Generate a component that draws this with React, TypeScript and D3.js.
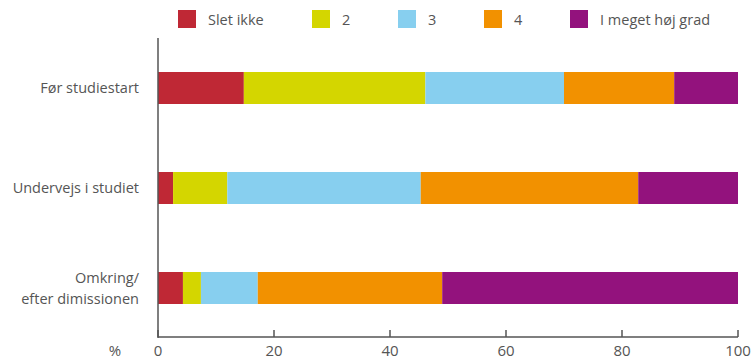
import React from "react";
import * as d3 from "d3";

const categories = ["Før studiestart", "Undervejs i studiet", "Omkring/\nefter dimissionen"];
const seriesNames = ["Slet ikke", "2", "3", "4", "I meget høj grad"];
const sletIkke = [14.8, 2.6, 4.3];
const level2 = [31.3, 9.35, 3.1];
const level3 = [23.9, 33.35, 9.8];
const level4 = [19.0, 37.5, 31.8];
const hoejGrad = [11.0, 17.2, 51.0];
const colors = ["#BF2835", "#D4D600", "#87CFEF", "#F29100", "#93127D"];
const xTicks = [0, 20, 40, 60, 80, 100];

const W = 754;
const H = 360;
const left = 158;
const right = 738;
const top = 38;
const bottom = 338;
const textColor = "#555";
const font = "'Open Sans', sans-serif";

export default function App() {
  const series = [sletIkke, level2, level3, level4, hoejGrad];
  const rows = categories.map((c, i) => {
    const r: any = { cat: c };
    seriesNames.forEach((s, k) => (r[s] = series[k][i]));
    return r;
  });
  const stacked = d3.stack().keys(seriesNames)(rows);

  const x = d3.scaleLinear().domain([0, 100]).range([left, right]);
  const y = d3
    .scaleBand()
    .domain(categories)
    .range([top, bottom])
    .paddingInner(0.68)
    .paddingOuter(0.34);

  const legendX = [178, 312, 398, 484, 570];

  return (
    <svg width={W} height={H} style={{ position: "absolute", left: 0, top: 0 }} fontFamily={font}>
      {/* legend */}
      {seriesNames.map((s, i) => (
        <g key={s} transform={`translate(${legendX[i]},10)`}>
          <rect width={18} height={18} fill={colors[i]} />
          <text x={30} y={15} fontSize={14.5} fill={textColor}>
            {s}
          </text>
        </g>
      ))}

      {/* bars */}
      {stacked.map((layer, k) => (
        <g key={layer.key} fill={colors[k]}>
          {layer.map((d, i) => (
            <rect
              key={i}
              x={x(d[0])}
              y={y(categories[i])}
              width={x(d[1]) - x(d[0])}
              height={y.bandwidth()}
            />
          ))}
        </g>
      ))}

      {/* category labels */}
      {categories.map((c) => {
        const lines = c.split("\n");
        const cy = (y(c) as number) + y.bandwidth() / 2;
        const lh = 21;
        return (
          <text key={c} textAnchor="end" fontSize={14.5} fill={textColor}>
            {lines.map((l, j) => (
              <tspan key={j} x={139} y={cy + 5 + (j - (lines.length - 1) / 2) * lh}>
                {l}
              </tspan>
            ))}
          </text>
        );
      })}

      {/* axes */}
      <line x1={left} x2={left} y1={top} y2={bottom} stroke={textColor} strokeWidth={1.5} />
      <line x1={left} x2={right} y1={bottom - 1} y2={bottom - 1} stroke={textColor} strokeWidth={1.5} />
      {xTicks.map((t) => (
        <g key={t}>
          <line x1={x(t)} x2={x(t)} y1={bottom - 1} y2={bottom - 8} stroke={textColor} strokeWidth={1.5} />
          <text x={x(t)} y={356} textAnchor="middle" fontSize={15} fill={textColor}>
            {t}
          </text>
        </g>
      ))}
      <text x={115} y={356} textAnchor="middle" fontSize={15} fill={textColor}>
        %
      </text>
    </svg>
  );
}
